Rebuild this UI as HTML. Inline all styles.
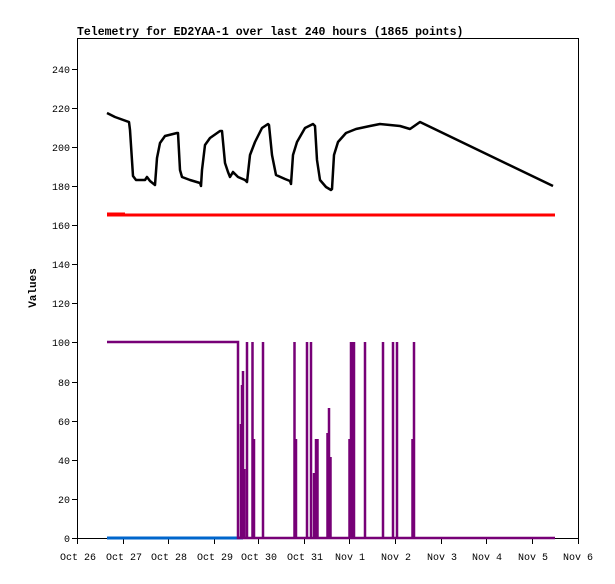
<!DOCTYPE html>
<html><head><style>body{margin:0;background:#fff}</style></head><body>
<svg width="615" height="579" xmlns="http://www.w3.org/2000/svg" font-family="Liberation Mono, monospace" shape-rendering="crispEdges">
<rect width="615" height="579" fill="#fff"/>
<text x="77" y="35" font-size="11.5" font-weight="bold">Telemetry for ED2YAA-1 over last 240 hours (1865 points)</text>
<rect x="77.5" y="38.5" width="501" height="500" fill="none" stroke="#000"/>
<g stroke="#000">
<line x1="72" y1="538.5" x2="77" y2="538.5"/><line x1="72" y1="499.5" x2="77" y2="499.5"/><line x1="72" y1="460.5" x2="77" y2="460.5"/><line x1="72" y1="421.5" x2="77" y2="421.5"/><line x1="72" y1="382.5" x2="77" y2="382.5"/><line x1="72" y1="342.5" x2="77" y2="342.5"/><line x1="72" y1="303.5" x2="77" y2="303.5"/><line x1="72" y1="264.5" x2="77" y2="264.5"/><line x1="72" y1="225.5" x2="77" y2="225.5"/><line x1="72" y1="186.5" x2="77" y2="186.5"/><line x1="72" y1="147.5" x2="77" y2="147.5"/><line x1="72" y1="108.5" x2="77" y2="108.5"/><line x1="72" y1="69.5" x2="77" y2="69.5"/>
</g>
<g font-size="10" text-anchor="end">
<text x="70" y="542">0</text><text x="70" y="503">20</text><text x="70" y="464">40</text><text x="70" y="425">60</text><text x="70" y="386">80</text><text x="70" y="346">100</text><text x="70" y="307">120</text><text x="70" y="268">140</text><text x="70" y="229">160</text><text x="70" y="190">180</text><text x="70" y="151">200</text><text x="70" y="112">220</text><text x="70" y="73">240</text>
</g>
<g stroke="#000">
<line x1="77.5" y1="538" x2="77.5" y2="544"/><line x1="123.5" y1="538" x2="123.5" y2="544"/><line x1="168.5" y1="538" x2="168.5" y2="544"/><line x1="214.5" y1="538" x2="214.5" y2="544"/><line x1="258.5" y1="538" x2="258.5" y2="544"/><line x1="304.5" y1="538" x2="304.5" y2="544"/><line x1="349.5" y1="538" x2="349.5" y2="544"/><line x1="395.5" y1="538" x2="395.5" y2="544"/><line x1="441.5" y1="538" x2="441.5" y2="544"/><line x1="486.5" y1="538" x2="486.5" y2="544"/><line x1="532.5" y1="538" x2="532.5" y2="544"/><line x1="578.5" y1="538" x2="578.5" y2="544"/>
</g>
<g font-size="10" text-anchor="middle">
<text x="78" y="560">Oct 26</text><text x="124" y="560">Oct 27</text><text x="169" y="560">Oct 28</text><text x="215" y="560">Oct 29</text><text x="259" y="560">Oct 30</text><text x="305" y="560">Oct 31</text><text x="350" y="560">Nov 1</text><text x="396" y="560">Nov 2</text><text x="442" y="560">Nov 3</text><text x="487" y="560">Nov 4</text><text x="533" y="560">Nov 5</text><text x="578" y="560">Nov 6</text>
</g>
<text transform="translate(36,288) rotate(-90)" font-size="11" font-weight="bold" text-anchor="middle">Values</text>
<g shape-rendering="auto">
<polyline fill="none" stroke="#ff0000" stroke-width="3" points="107,215 555,215"/>
<polyline fill="none" stroke="#ff0000" stroke-width="2" points="107,213.5 125,213.5 M0,0"/>
<line x1="107" y1="538" x2="243" y2="538" stroke="#0066cc" stroke-width="3"/>
<polyline fill="none" stroke="#000" stroke-width="2.5" stroke-linejoin="round" points="107,113 115,117 129,122 130,130 133,176 136,180 145,180 147,177 150,181 155,185 157,158 160,143 165,136 177,133 178,133 180,170 182,177 190,180 200,183 201,186 202,170 205,145 210,138 220,131 222,131 225,163 228,172 230,177 233,172 238,177 245,180 247,182 250,155 255,142 262,128 268,124 269,125 272,155 276,175 285,179 290,181 291,184 293,155 297,142 305,128 313,124 315,126 317,160 320,180 326,187 331,190 332,189 334,155 338,142 346,133 356,129 370,126 380,124 390,125 400,126 410,129 420,122 553,186"/>
<g stroke="#770077" stroke-width="2.5" fill="none">
<polyline points="107,342 238,342 238,538 555,538"/>
<line x1="241" y1="538" x2="241" y2="424"/><line x1="242" y1="538" x2="242" y2="385"/><line x1="243" y1="538" x2="243" y2="371"/><line x1="244.5" y1="538" x2="244.5" y2="469"/>
<line x1="247" y1="538" x2="247" y2="342"/><line x1="252.5" y1="538" x2="252.5" y2="342"/><line x1="254" y1="538" x2="254" y2="439"/><line x1="263" y1="538" x2="263" y2="342"/>
<line x1="294.5" y1="538" x2="294.5" y2="342"/><line x1="296" y1="538" x2="296" y2="439"/><line x1="307" y1="538" x2="307" y2="342"/><line x1="311" y1="538" x2="311" y2="342"/>
<line x1="314" y1="538" x2="314" y2="473"/><line x1="316" y1="538" x2="316" y2="439"/><line x1="317.5" y1="538" x2="317.5" y2="439"/>
<line x1="327.5" y1="538" x2="327.5" y2="433"/><line x1="329" y1="538" x2="329" y2="408"/><line x1="330.5" y1="538" x2="330.5" y2="457"/>
<line x1="349.5" y1="538" x2="349.5" y2="439"/><line x1="351" y1="538" x2="351" y2="342"/><line x1="352.5" y1="538" x2="352.5" y2="342"/><line x1="354" y1="538" x2="354" y2="342"/>
<line x1="365" y1="538" x2="365" y2="342"/><line x1="383" y1="538" x2="383" y2="342"/><line x1="393" y1="538" x2="393" y2="342"/><line x1="397" y1="538" x2="397" y2="342"/>
<line x1="412.5" y1="538" x2="412.5" y2="439"/><line x1="414" y1="538" x2="414" y2="342"/>
</g>
</g>
</svg>
</body></html>
